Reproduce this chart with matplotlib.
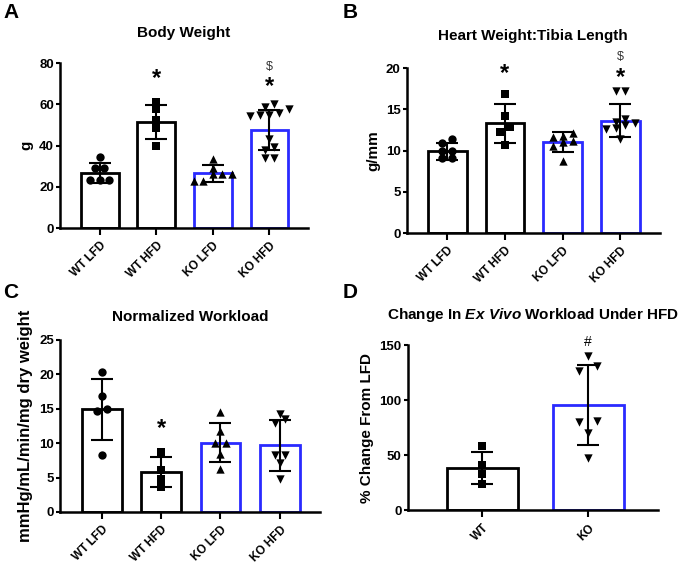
import numpy as np
import matplotlib
matplotlib.use("Agg")
import matplotlib.pyplot as plt

plt.rcParams['font.family'] = ['Liberation Sans', 'DejaVu Sans']
plt.rcParams['font.weight'] = 'bold'
plt.rcParams['mathtext.fontset'] = 'custom'
plt.rcParams['mathtext.rm'] = 'Liberation Sans:bold'
plt.rcParams['mathtext.it'] = 'Liberation Sans:italic:bold'
plt.rcParams['mathtext.bf'] = 'Liberation Sans:bold'

groups = ["WT LFD", "WT HFD", "KO LFD", "KO HFD"]
markers = ["o", "s", "^", "v"]
edge_cols = ["black", "black", "#2a2aff", "#2a2aff"]

# A: body weight (g)
bw_mean = [26.6, 51.5, 26.5, 47.5]
bw_sd = [5.0, 8.3, 4.1, 9.9]
bw_pts = [[34.6, 29.0, 29.0, 23.3, 23.3, 23.3],
          [61.2, 57.5, 52.6, 48.3, 40.0],
          [33.3, 29.0, 26.2, 26.2, 26.2, 23.0, 23.0],
          [60.0, 58.5, 57.5, 55.0, 54.5, 55.0, 56.0, 43.0, 39.5, 38.0, 34.0, 34.0]]

# B: heart weight / tibia length (g/mm)
hw_mean = [9.9, 13.3, 11.0, 13.6]
hw_sd = [1.0, 2.4, 1.2, 2.0]
hw_pts = [[11.4, 10.9, 9.9, 9.9, 9.1, 9.1],
          [16.9, 14.2, 12.9, 12.3, 10.7],
          [12.1, 11.8, 11.2, 11.1, 11.7, 10.6, 8.8],
          [17.2, 17.2, 13.8, 13.5, 13.3, 13.1, 12.8, 12.6, 11.4]]

# C: normalized workload
wl_mean = [14.9, 5.8, 10.1, 9.7]
wl_sd = [4.4, 2.2, 2.8, 3.7]
wl_pts = [[20.4, 16.8, 15.0, 14.7, 8.3],
          [8.7, 6.1, 4.8, 3.6],
          [14.5, 11.7, 10.0, 10.0, 8.5, 6.3],
          [14.3, 13.5, 13.0, 8.3, 8.3, 7.1, 4.8]]

# D: % change from LFD
d_groups = ["WT", "KO"]
d_mean = [38.5, 95.5]
d_sd = [14.5, 36.0]
d_pts = [[58.0, 41.0, 33.0, 24.0],
         [140.0, 131.0, 126.0, 80.0, 81.0, 70.0, 47.0]]


def swarm(vals, tol, step=0.17):
    vals = np.asarray(vals)
    offs = np.zeros(len(vals))
    order = np.argsort(vals)
    used = np.zeros(len(vals), bool)
    for i in order:
        if used[i]:
            continue
        grp = [j for j in order if not used[j] and abs(vals[j] - vals[i]) <= tol]
        for k, j in enumerate(grp):
            offs[j] = (k - (len(grp) - 1) / 2) * step
            used[j] = True
    return offs


def panel(ax, labels, means, sds, pts, mks, cols, ymax, yticks, ylabel, tol, ylsize=11):
    x = np.arange(len(labels))
    ax.bar(x, means, width=0.67, color="white", edgecolor=cols, linewidth=2, zorder=1)
    for i in range(len(labels)):
        offs = swarm(pts[i], tol)
        ax.scatter(x[i] + offs, pts[i], marker=mks[i], color="black", s=36, zorder=3,
                   linewidths=0)
        ax.errorbar(x[i], means[i], yerr=sds[i], color="black", capsize=8,
                    elinewidth=1.5, capthick=1.5, zorder=4)
    ax.set_xlim(-0.7, len(labels) - 0.32)
    ax.set_ylim(0, ymax)
    ax.set_yticks(yticks)
    ax.set_xticks(x)
    ax.set_xticklabels(labels, rotation=45, ha="right", rotation_mode="anchor",
                       fontsize=8.5, fontweight="bold")
    ax.tick_params(axis="y", labelsize=9.5, width=1.5, length=3, pad=1.5)
    ax.tick_params(axis="x", width=1.5, length=5)
    for s in ["top", "right"]:
        ax.spines[s].set_visible(False)
    for s in ["left", "bottom"]:
        ax.spines[s].set_linewidth(1.8)
    ax.spines["left"].set_bounds(0, ymax)
    ax.set_ylabel(ylabel, fontsize=ylsize, fontweight="bold")
    for lab in ax.get_yticklabels():
        lab.set_fontweight("bold")


fig = plt.figure(figsize=(6.85, 5.63), dpi=100)

axA = fig.add_axes([0.0876, 0.595, 0.362, 0.293])
panel(axA, groups, bw_mean, bw_sd, bw_pts, markers, edge_cols, 80, [0, 20, 40, 60, 80], "g", 3.2)
axA.set_title("Body Weight", fontsize=11, fontweight="bold", pad=19)
axA.text(1, 72.5, "*", ha="center", va="center", fontsize=17, fontweight="bold")
axA.text(3, 68.5, "*", ha="center", va="center", fontsize=17, fontweight="bold")
axA.text(3, 78, "$", ha="center", va="center", fontsize=9, fontweight="normal", color="#333333")

axB = fig.add_axes([0.594, 0.586, 0.369, 0.293])
panel(axB, groups, hw_mean, hw_sd, hw_pts, markers, edge_cols, 20, [0, 5, 10, 15, 20], "g/mm", 0.8)
axB.set_title("Heart Weight:Tibia Length", fontsize=11, fontweight="bold", pad=20)
axB.text(1, 19.4, "*", ha="center", va="center", fontsize=17, fontweight="bold")
axB.text(3, 18.9, "*", ha="center", va="center", fontsize=17, fontweight="bold")
axB.text(3, 21.4, "$", ha="center", va="center", fontsize=9, fontweight="normal",
         color="#333333", clip_on=False)

axC = fig.add_axes([0.0876, 0.0906, 0.380, 0.3055])
panel(axC, groups, wl_mean, wl_sd, wl_pts, markers, edge_cols, 25, [0, 5, 10, 15, 20, 25],
      "mmHg/mL/min/mg dry weight", 1.0, ylsize=12)
axC.set_title("Normalized Workload", fontsize=11, fontweight="bold", pad=14)
axC.text(1, 12.2, "*", ha="center", va="center", fontsize=17, fontweight="bold")

axD = fig.add_axes([0.5956, 0.0941, 0.365, 0.293])
panel(axD, d_groups, d_mean, d_sd, d_pts, ["s", "v"], ["black", "#2a2aff"], 150,
      [0, 50, 100, 150], "% Change From LFD", 6)
axD.set_xlim(-0.7, 1.66)
axD.set_title(r"Change In $\it{Ex\ Vivo}$ Workload Under HFD", fontsize=11,
              fontweight="bold", pad=19)
axD.text(1, 153, "#", ha="center", va="center", fontsize=10, fontweight="normal",
         clip_on=False)

for lab, xx, yy in [("A", 0.005, 0.977), ("B", 0.5, 0.977), ("C", 0.005, 0.48), ("D", 0.5, 0.48)]:
    fig.text(xx, yy, lab, fontsize=15, fontweight="bold", va="center")

fig.savefig("out.png", dpi=100)
